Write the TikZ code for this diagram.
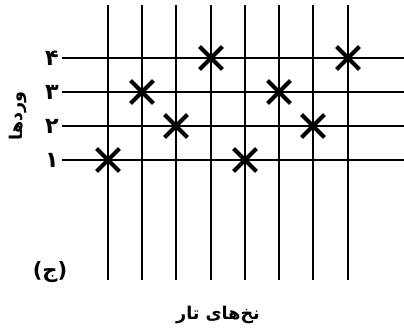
\documentclass[tikz,border=0pt]{standalone}
\usepackage{fontspec}
\usetikzlibrary{shapes.misc}
\newfontfamily\arabicfont[Script=Arabic]{DejaVu Sans}
\TeXXeTstate=1
\tikzset{
  thread/.style={line width=1.6pt},
  knot/.style={draw, cross out, minimum size=0.56cm, line width=3.6pt, inner sep=0pt},
  label/.style={font=\arabicfont\bfseries\fontsize{15}{18}\selectfont, inner sep=0pt},
  digit/.style={font=\arabicfont\bfseries\fontsize{19}{22}\selectfont, inner sep=0pt},
  tagtext/.style={font=\arabicfont\bfseries\fontsize{18}{21}\selectfont, inner sep=0pt}
}
\begin{document}
\begin{tikzpicture}[x=0.03cm, y=-0.03cm]
\useasboundingbox (0,0) rectangle (404,335);
% warp threads
\foreach \x in {108,142,176,211,245,279,313,348}
  \draw[thread] (\x,5) -- (\x,280);
% weft threads
\foreach \y in {58,92,126,160}
  \draw[thread] (62,\y) -- (404,\y);
% crossing points
\node[knot] (k1) at (108,160) {};
\node[knot] (k2) at (245,160) {};
\node[knot] (k3) at (176,126) {};
\node[knot] (k4) at (313,126) {};
\node[knot] (k5) at (142,92) {};
\node[knot] (k6) at (279,92) {};
\node[knot] (k7) at (211,58) {};
\node[knot] (k8) at (348,58) {};
% labels
\node[digit] (n4) at (52,58) {\beginR ۴\endR};
\node[digit] (n3) at (52,92) {\beginR ۳\endR};
\node[digit] (n2) at (52,126) {\beginR ۲\endR};
\node[digit] (n1) at (52,160) {\beginR ۱\endR};
\node[label, rotate=90] (weft) at (18,116) {\beginR وردها\endR};
\node[tagtext] (tag) at (50,272) {\beginR (ج)\endR};
\node[label] (warp) at (218,315) {\beginR نخ‌های تار\endR};
\end{tikzpicture}
\end{document}
